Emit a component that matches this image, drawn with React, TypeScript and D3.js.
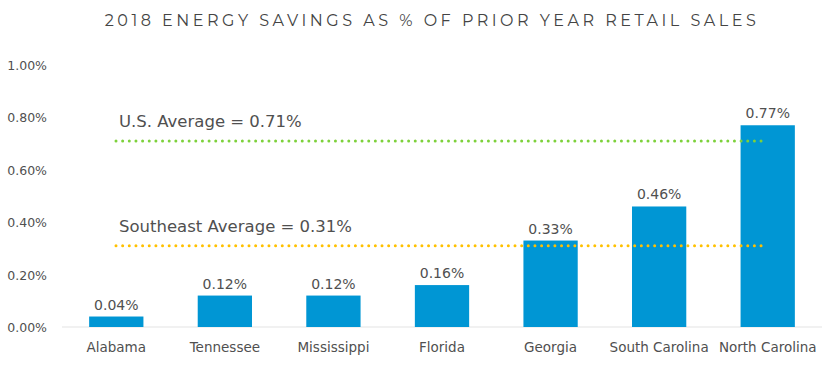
import { useEffect, useRef } from "react";
import * as d3 from "d3";

const states = [
  "Alabama",
  "Tennessee",
  "Mississippi",
  "Florida",
  "Georgia",
  "South Carolina",
  "North Carolina",
];
const savings = [0.04, 0.12, 0.12, 0.16, 0.33, 0.46, 0.77];
const yTicks = [0, 0.2, 0.4, 0.6, 0.8, 1.0];
const averages = [
  { label: "U.S. Average = 0.71%", value: 0.71, color: "#7dd13b" },
  { label: "Southeast Average = 0.31%", value: 0.31, color: "#ffc000" },
];

export default function App() {
  const svgRef = useRef<SVGSVGElement>(null);

  useEffect(() => {
    if (!svgRef.current) return;
    const svg = d3.select(svgRef.current);
    const width = 825;
    const height = 372;
    const margin = { left: 62, right: 3, top: 65, bottom: 45 };
    const font = "'DejaVu Sans', sans-serif";
    const textColor = "#505050";

    svg.selectAll("*").remove();
    svg.attr("width", width).attr("height", height);

    const x = d3
      .scaleBand()
      .domain(states)
      .range([margin.left, width - margin.right])
      .paddingInner(0.5)
      .paddingOuter(0.25);

    const y = d3
      .scaleLinear()
      .domain([0, 1])
      .range([height - margin.bottom, margin.top]);

    // Title
    svg
      .append("text")
      .attr("x", 432)
      .attr("y", 26)
      .attr("text-anchor", "middle")
      .attr("fill", "#444")
      .attr("font-family", "Montserrat, 'Open Sans', sans-serif")
      .attr("font-size", "16px")
      .attr("letter-spacing", "3.5px")
      .text("2018 ENERGY SAVINGS AS % OF PRIOR YEAR RETAIL SALES");

    // Y tick labels
    svg
      .append("g")
      .selectAll("text")
      .data(yTicks)
      .join("text")
      .attr("x", 47)
      .attr("y", (d) => y(d) + 5)
      .attr("text-anchor", "end")
      .attr("fill", textColor)
      .attr("font-family", font)
      .attr("font-size", "12.5px")
      .text((d) => d3.format(".2f")(d) + "%");

    // Axis baseline
    svg
      .append("line")
      .attr("x1", margin.left)
      .attr("x2", width - margin.right)
      .attr("y1", y(0))
      .attr("y2", y(0))
      .attr("stroke", "#e3e3e3")
      .attr("stroke-width", 1);

    // Bars
    svg
      .append("g")
      .selectAll("rect")
      .data(savings)
      .join("rect")
      .attr("x", (_, i) => x(states[i])!)
      .attr("y", (d) => y(d))
      .attr("width", x.bandwidth())
      .attr("height", (d) => y(0) - y(d))
      .attr("fill", "#0096d4");

    // Value labels
    svg
      .append("g")
      .selectAll("text")
      .data(savings)
      .join("text")
      .attr("x", (_, i) => x(states[i])! + x.bandwidth() / 2)
      .attr("y", (d) => y(d) - 7)
      .attr("text-anchor", "middle")
      .attr("fill", textColor)
      .attr("font-family", font)
      .attr("font-size", "14px")
      .text((d) => d3.format(".2f")(d) + "%");

    // Category labels
    svg
      .append("g")
      .selectAll("text")
      .data(states)
      .join("text")
      .attr("x", (d) => x(d)! + x.bandwidth() / 2)
      .attr("y", height - margin.bottom + 25)
      .attr("text-anchor", "middle")
      .attr("fill", textColor)
      .attr("font-family", font)
      .attr("font-size", "13.5px")
      .text((d) => d);

    // Average lines
    const lineStart = 116;
    const lineEnd = 763;
    averages.forEach((a) => {
      svg
        .append("line")
        .attr("x1", lineStart)
        .attr("x2", lineEnd)
        .attr("y1", y(a.value))
        .attr("y2", y(a.value))
        .attr("stroke", a.color)
        .attr("stroke-width", 3)
        .attr("stroke-linecap", "round")
        .attr("stroke-dasharray", "0 6.65");

      svg
        .append("text")
        .attr("x", 119)
        .attr("y", y(a.value) - 14)
        .attr("fill", textColor)
        .attr("font-family", font)
        .attr("font-size", "16.5px")
        .text(a.label);
    });
  }, []);

  return (
    <div style={{ position: "absolute", left: 0, top: 0, background: "#fff" }}>
      <svg ref={svgRef} style={{ display: "block" }}></svg>
    </div>
  );
}
